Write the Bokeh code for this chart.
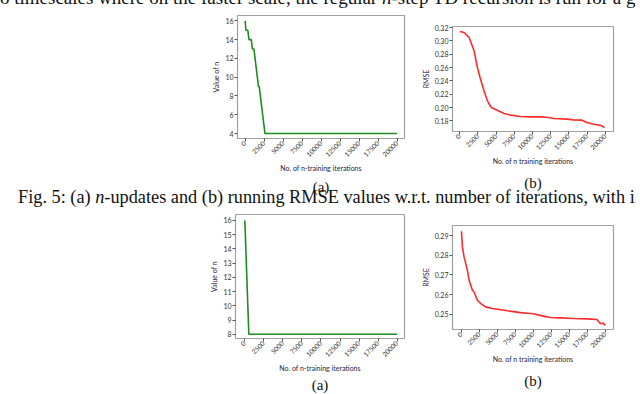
import math
from bokeh.plotting import figure
from bokeh.models import FixedTicker, PrintfTickFormatter, Title, Range1d, Div, Spacer
from bokeh.layouts import column, row
from bokeh.embed import file_html
from bokeh.resources import INLINE

# ---------------- data ----------------
x_ticks = [0, 2500, 5000, 7500, 10000, 12500, 15000, 17500, 20000]

# top (a): value of n vs iterations
n1_iter = [0, 100, 350, 500, 800, 950, 1150, 1300, 1450, 1600, 1750, 1850, 2000, 2150, 2300, 2450, 2600, 20000]
n1_val = [16, 15, 15, 14, 14, 13, 13, 12, 11, 10, 9, 9, 8, 7, 6, 5, 4, 4]
n1_ticks = [4, 6, 8, 10, 12, 14, 16]

# top (b): running RMSE
r1_iter = [0, 594, 1280, 1963, 2420, 2785, 3333, 3790, 4338, 5160, 6073, 6986, 8356, 9726,
           11096, 12237, 12922, 14749, 15662, 16804, 17489, 18402, 19315, 19909]
r1_val = [0.314, 0.3125, 0.305, 0.285, 0.26, 0.245, 0.225, 0.21, 0.20, 0.196, 0.191, 0.1885,
          0.1865, 0.186, 0.186, 0.185, 0.1835, 0.1825, 0.1815, 0.181, 0.1775, 0.175, 0.1735, 0.170]
r1_ticks = [0.18, 0.20, 0.22, 0.24, 0.26, 0.28, 0.30, 0.32]

# bottom (a): value of n vs iterations
n2_iter = [0, 525, 20000]
n2_val = [16, 8, 8]
n2_ticks = [8, 9, 10, 11, 12, 13, 14, 15, 16]

# bottom (b): running RMSE
r2_iter = [0, 139, 370, 832, 1063, 1525, 1756, 2218, 2680, 3373, 4298, 5222, 6377, 8226, 9150,
           10074, 10767, 11460, 12384, 13771, 15619, 17468, 18854, 19316, 19778, 20009]
r2_val = [0.2922, 0.2841, 0.2790, 0.2723, 0.2672, 0.2622, 0.2613, 0.2571, 0.2554, 0.2537, 0.2529,
          0.2524, 0.2517, 0.2508, 0.2505, 0.2502, 0.2495, 0.2490, 0.2483, 0.2481, 0.2478, 0.2476,
          0.2473, 0.2453, 0.2453, 0.2443]
r2_ticks = [0.25, 0.26, 0.27, 0.28, 0.29]

top_line = "o timescales where on the faster scale, the regular <i>n</i>-step TD recursion is run for a g"
caption = "Fig. 5: (a) <i>n</i>-updates and (b) running RMSE values w.r.t. number of iterations, with i"

SANS = "Lato"
SERIF = "Liberation Serif"


def make_fig(fw, fh, bl, bt, br, bb, xr, yr, xs, ys, yticks, yfmt, ylabel, xlabel, sub, color,
             sub_standoff):
    p = figure(frame_width=fw, frame_height=fh, output_backend="svg", toolbar_location=None,
               x_range=Range1d(*xr), y_range=Range1d(*yr),
               min_border_left=bl, min_border_top=bt, min_border_right=br, min_border_bottom=bb)
    p.line(xs, ys, line_color=color, line_width=1.6)
    p.xgrid.visible = False
    p.ygrid.visible = False
    p.outline_line_color = "#a0a0a0"
    p.outline_line_width = 1.2
    p.xaxis.ticker = FixedTicker(ticks=x_ticks)
    p.yaxis.ticker = FixedTicker(ticks=yticks)
    if yfmt:
        p.yaxis.formatter = PrintfTickFormatter(format=yfmt)
    p.xaxis.major_label_orientation = math.pi / 4
    for ax in (p.xaxis[0], p.yaxis[0]):
        ax.axis_line_color = None
        ax.minor_tick_line_color = None
        ax.major_tick_in = 0
        ax.major_tick_out = 3
        ax.major_tick_line_color = "#555555"
        ax.major_label_text_font = SANS
        ax.major_label_text_font_size = "6.5px"
        ax.major_label_text_color = "#333333"
        ax.major_label_standoff = 1
        ax.axis_label_text_font = SANS
        ax.axis_label_text_font_size = "7px"
        ax.axis_label_text_font_style = "normal"
        ax.axis_label_text_color = "#222244"
        ax.axis_label_standoff = 2
    p.yaxis.major_label_text_font_size = "7px"
    p.xaxis.axis_label = xlabel
    p.yaxis.axis_label = ylabel
    t = Title(text=sub, align="center", text_font=SERIF, text_font_size="15px",
              text_font_style="normal", text_color="#111111", standoff=sub_standoff)
    p.add_layout(t, "below")
    return p


a1 = make_fig(167, 123, 37, 7, 10, 58, (-1010, 20957), (3.47, 16.57), n1_iter, n1_val,
              n1_ticks, None, "Value of n", "No. of n-training iterations", "(a)", "#1e8c1e", 4)
b1 = make_fig(161, 105, 38, 18, 19, 65, (-1005, 21142), (0.164, 0.3215), r1_iter, r1_val,
              r1_ticks, "%.2f", "RMSE", "No. of n training iterations", "(b)", "#ff2a2a", 11)
a2 = make_fig(169, 124, 35, 7, 10, 56, (-1226, 20971), (7.7, 16.42), n2_iter, n2_val,
              n2_ticks, None, "Value of n", "No. of n-training iterations", "(a)", "#1e8c1e", 0)
b2 = make_fig(161, 104, 38, 18, 19, 65, (-1248, 21164), (0.2422, 0.2951), r2_iter, r2_val,
              r2_ticks, "%.2f", "RMSE", "No. of n training iterations", "(b)", "#ff2a2a", 10)

top = Div(text=top_line, width=640, height=20, margin=(-12, 0, 0, 0),
          styles={"font-family": SERIF, "font-size": "19px", "white-space": "nowrap",
                  "overflow": "hidden", "line-height": "20px", "color": "#111111"})

cap = Div(text=caption, width=640, height=20, margin=(-9, 0, 0, 0),
          styles={"font-family": SERIF, "font-size": "18.3px", "white-space": "nowrap",
                  "overflow": "hidden", "line-height": "20px", "padding-left": "18px",
                  "color": "#111111"})

layout = column(
    top,
    row(Spacer(width=200, height=10), column(a1), column(b1)),
    cap,
    row(Spacer(width=200, height=10), column(a2), column(b2)),
)

open("out.html", "w").write(file_html(layout, INLINE))
